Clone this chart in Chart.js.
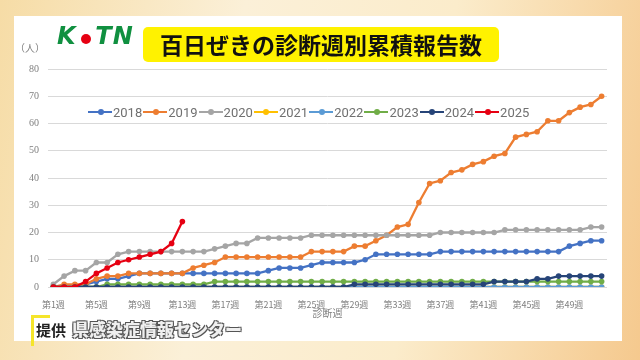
<!DOCTYPE html>
<html lang="ja">
<head>
<meta charset="utf-8">
<title>百日ぜきの診断週別累積報告数</title>
<script src="https://cdn.jsdelivr.net/npm/chart.js@4"></script>
<style>
    html, body { margin: 0; padding: 0; }
    body {
        width: 640px; height: 360px; overflow: hidden; position: relative;
        background: linear-gradient(100deg, #f6dca6 0%, #fbf0d8 35%, #fbeccb 65%, #f5c98e 100%);
        font-family: "Noto Sans CJK JP", sans-serif;
    }
    .panel { position: absolute; left: 14px; top: 16px; width: 608px; height: 325px; background: #fff; }
    #chartWrap { position: absolute; left: 0; top: 0; width: 640px; height: 360px; }
    .logo { position: absolute; left: 57px; top: 22px; font: italic 900 24px "DejaVu Sans", sans-serif; color: #109040; letter-spacing: 1px; }
    .logo .dot { position: absolute; left: 24px; top: 12px; width: 10px; height: 10px; border-radius: 50%; background: #e60012; }
    .title {
        position: absolute; left: 143px; top: 27px; width: 356px; height: 35px; border-radius: 5px;
        background: #fff200; color: #111; font-weight: 700; font-size: 23px; line-height: 35px; text-align: center;
    }
    .unit { position: absolute; left: 15px; top: 40px; font-size: 10px; color: #7f7f7f; }
    .legend { position: absolute; left: 88px; top: 103px; display: flex; }
    .legend .item { display: flex; align-items: center; width: 55.3px; height: 18px; }
    .legend .mark { position: relative; width: 24px; height: 2.5px; margin-right: 1px; }
    .legend .mark i { position: absolute; left: 9.5px; top: -1.75px; width: 6px; height: 6px; border-radius: 50%; }
    .legend span { font: 13px "Liberation Sans Narrow", "Roboto", sans-serif; color: #707070; }
    .bracket { position: absolute; left: 31px; top: 315px; width: 16px; height: 28px; border-left: 3px solid #f5e52a; border-top: 3px solid #f5e52a; }
    .credit { position: absolute; left: 36px; top: 316px; font-size: 15px; font-weight: 700; color: #222; }
    .credit b {
        margin-left: 6px; font-size: 17px; color: #efefef;
        text-shadow: -1px -1px 0 #555, 1px -1px 0 #555, -1px 1px 0 #555, 1px 1px 0 #555;
    }
</style>
</head>
<body>
<div class="panel"></div>
<div id="chartWrap"><canvas id="weeklyChart" width="640" height="360"></canvas></div>
<div class="logo">K&nbsp;&nbsp;TN<div class="dot"></div></div>
<div class="title">百日ぜきの診断週別累積報告数</div>
<div class="unit">（人）</div>
<div class="legend" id="legend"></div>
<div class="bracket"></div>
<div class="credit">提供<b>県感染症情報センター</b></div>

<script>
// Diagnosis weeks (x axis)
const weeks = ['第1週','第2週','第3週','第4週','第5週','第6週','第7週','第8週','第9週','第10週',
    '第11週','第12週','第13週','第14週','第15週','第16週','第17週','第18週','第19週','第20週',
    '第21週','第22週','第23週','第24週','第25週','第26週','第27週','第28週','第29週','第30週',
    '第31週','第32週','第33週','第34週','第35週','第36週','第37週','第38週','第39週','第40週',
    '第41週','第42週','第43週','第44週','第45週','第46週','第47週','第48週','第49週','第50週',
    '第51週','第52週'];

const years = ['2018', '2019', '2020', '2021', '2022', '2023', '2024', '2025'];
const colors = ['#4472c4', '#ed7d31', '#a5a5a5', '#ffc000', '#5b9bd5', '#70ad47', '#264478', '#e60012'];

// Cumulative reports per year
const cases2018 = [0,0,0,1,2,3,3,4,5,5, 5,5,5,5,5,5,5,5,5,5, 6,7,7,7,8,9,9,9,9,10, 12,12,12,12,12,12,13,13,13,13, 13,13,13,13,13,13,13,13,15,16, 17,17];
const cases2019 = [0,1,1,1,3,4,4,5,5,5, 5,5,5,7,8,9,11,11,11,11, 11,11,11,11,13,13,13,13,15,15, 17,19,22,23,31,38,39,42,43,45, 46,48,49,55,56,57,61,61,64,66, 67,70];
const cases2020 = [1,4,6,6,9,9,12,13,13,13, 13,13,13,13,13,14,15,16,16,18, 18,18,18,18,19,19,19,19,19,19, 19,19,19,19,19,19,20,20,20,20, 20,20,21,21,21,21,21,21,21,21, 22,22];
const cases2021 = [0,0,0,0,0,0,0,0,0,0, 0,0,0,0,0,0,0,0,0,0, 0,0,0,0,0,0,0,0,0,0, 0,0,0,0,0,0,0,0,0,0, 0,0,0,0,0,0,0,0,0,0, 0,0];
const cases2022 = [0,0,0,0,0,0,0,0,0,0, 0,0,0,0,0,0,0,0,0,0, 0,0,0,0,0,0,0,0,0,0, 0,0,0,0,0,0,0,0,0,0, 0,0,0,0,0,0,0,0,0,0, 0,0];
const cases2023 = [0,0,0,0,0,1,1,1,1,1, 1,1,1,1,1,2,2,2,2,2, 2,2,2,2,2,2,2,2,2,2, 2,2,2,2,2,2,2,2,2,2, 2,2,2,2,2,2,2,2,2,2, 2,2];
const cases2024 = [0,0,0,0,0,0,0,0,0,0, 0,0,0,0,0,0,0,0,0,0, 0,0,0,0,0,0,0,0,1,1, 1,1,1,1,1,1,1,1,1,1, 1,2,2,2,2,3,3,4,4,4, 4,4];
const cases2025 = [0,0,0,2,5,7,9,10,11,12, 13,16,24];

const yTicks = [0, 10, 20, 30, 40, 50, 60, 70, 80];

document.addEventListener('DOMContentLoaded', function() {
    const series = [cases2018, cases2019, cases2020, cases2021, cases2022, cases2023, cases2024, cases2025];

    // Excel draws later series on top, so lower order for later years
    const datasets = series.map((data, i) => ({
        label: years[i],
        data: data,
        order: series.length - i,
        borderColor: colors[i],
        backgroundColor: colors[i],
        borderWidth: 2.3,
        pointRadius: 2.8,
        pointBorderWidth: 0,
        pointBackgroundColor: colors[i],
        tension: 0
    }));

    new Chart(document.getElementById('weeklyChart').getContext('2d'), {
        type: 'line',
        data: { labels: weeks, datasets: datasets },
        options: {
            responsive: false,
            animation: false,
            layout: { padding: { left: 20, right: 33, top: 69, bottom: 37 } },
            plugins: { legend: { display: false }, tooltip: { enabled: false } },
            scales: {
                x: {
                    offset: true,
                    grid: { display: false },
                    border: { display: false },
                    afterFit: s => { s.height = 36; },
                    ticks: {
                        autoSkip: false, maxRotation: 0, padding: 4,
                        color: '#7f7f7f',
                        font: { family: 'Noto Sans CJK JP', size: 9 },
                        callback: function(value, index) {
                            return index % 4 === 0 ? weeks[index] : '';
                        }
                    },
                    title: {
                        display: true, text: '診断週', color: '#7f7f7f',
                        font: { family: 'Noto Sans CJK JP', size: 10 },
                        padding: { top: 0, bottom: 4 }
                    }
                },
                y: {
                    min: yTicks[0], max: yTicks[yTicks.length - 1],
                    afterFit: s => { s.width = 28; },
                    afterBuildTicks: s => { s.ticks = yTicks.map(v => ({ value: v })); },
                    grid: { color: '#d9d9d9', drawTicks: false },
                    border: { display: false },
                    ticks: {
                        padding: 9, color: '#7f7f7f',
                        font: { family: 'Liberation Sans Narrow', size: 10 }
                    }
                }
            }
        }
    });

    // HTML legend laid over the plot like the original
    const legend = document.getElementById('legend');
    years.forEach((year, i) => {
        const item = document.createElement('div');
        item.className = 'item';
        item.innerHTML = `<div class="mark" style="background:${colors[i]}"><i style="background:${colors[i]}"></i></div><span>${year}</span>`;
        legend.appendChild(item);
    });
});
</script>
</body>
</html>
